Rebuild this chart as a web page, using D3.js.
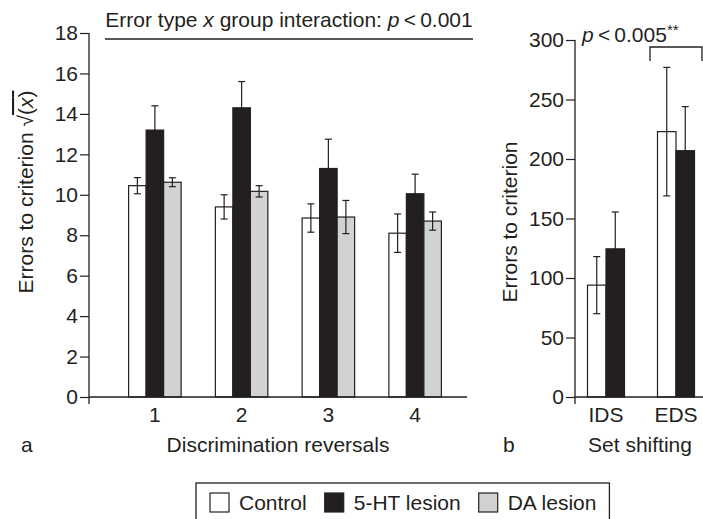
<!DOCTYPE html>
<html>
<head>
<meta charset="utf-8">
<script src="https://cdn.jsdelivr.net/npm/d3@7"></script>
<style>
  body { margin: 0; background: #fff; }
  svg text { font-family: "Liberation Sans", Arial, sans-serif; fill: #231f20; }
</style>
</head>
<body>
<svg id="chart" width="703" height="519"></svg>
<script>
// data
const reversals = ["1", "2", "3", "4"];
const groups = ["Control", "5-HT lesion", "DA lesion"];
const groupFill = ["#ffffff", "#231f20", "#d1d2d4"];

const controlMeans = [10.45, 9.4, 8.85, 8.1];
const controlErr = [0.4, 0.6, 0.7, 0.95];
const htMeans = [13.2, 14.3, 11.3, 10.05];
const htErr = [1.2, 1.3, 1.45, 0.97];
const daMeans = [10.62, 10.17, 8.9, 8.7];
const daErr = [0.22, 0.28, 0.82, 0.45];

const shiftStages = ["IDS", "EDS"];
const shiftControlMeans = [94, 223];
const shiftControlErr = [24, 54];
const shiftHtMeans = [124.5, 207];
const shiftHtErr = [31, 37];

const aTicks = [0, 2, 4, 6, 8, 10, 12, 14, 16, 18];
const bTicks = [0, 50, 100, 150, 200, 250, 300];

const ink = "#231f20";
const svg = d3.select("#chart");

// ---------- panel a ----------
const yA = d3.scaleLinear().domain([0, 18]).range([397, 33]);
const xA = d3.scaleBand().domain(reversals).range([111.5, 458.5]);
const subA = d3.scaleBand().domain(groups).range([-26.25, 26.25]);

const aRows = [];
reversals.forEach((r, i) => {
    aRows.push({ cat: r, g: groups[0], v: controlMeans[i], e: controlErr[i] });
    aRows.push({ cat: r, g: groups[1], v: htMeans[i], e: htErr[i] });
    aRows.push({ cat: r, g: groups[2], v: daMeans[i], e: daErr[i] });
});

const gA = svg.append("g");

gA.append("g")
    .attr("transform", "translate(89,0)")
    .call(d3.axisLeft(yA).tickValues(aTicks).tickSize(9).tickPadding(2).tickSizeOuter(0))
    .call(g => g.select(".domain").remove())
    .call(g => g.selectAll("line").attr("stroke", ink).attr("stroke-width", 1.2))
    .call(g => g.selectAll("text").attr("font-size", 21).attr("fill", ink));

gA.append("g")
    .attr("transform", "translate(0,397)")
    .call(d3.axisBottom(xA).tickSize(0).tickPadding(10))
    .call(g => g.select(".domain").remove())
    .call(g => g.selectAll("text").attr("font-size", 21).attr("fill", ink));

drawBars(gA, aRows, xA, subA, yA);

gA.append("line").attr("x1", 89).attr("x2", 89).attr("y1", 33).attr("y2", 404)
    .attr("stroke", ink).attr("stroke-width", 1.3);
gA.append("line").attr("x1", 89).attr("x2", 467).attr("y1", 397).attr("y2", 397)
    .attr("stroke", ink).attr("stroke-width", 1.3);

// title + rule
const title = gA.append("text").attr("x", 289).attr("y", 27)
    .attr("text-anchor", "middle").attr("font-size", 21);
title.append("tspan").text("Error type ");
title.append("tspan").attr("font-style", "italic").text("x");
title.append("tspan").text(" group interaction: ");
title.append("tspan").attr("font-style", "italic").text("p");
title.append("tspan").text("\u2009<\u20090.001");
gA.append("line").attr("x1", 105).attr("x2", 473).attr("y1", 39).attr("y2", 39)
    .attr("stroke", ink).attr("stroke-width", 1.3);

// y label with sqrt
const yLabA = gA.append("text")
    .attr("transform", "translate(33,192) rotate(-90)")
    .attr("text-anchor", "middle").attr("font-size", 21);
yLabA.append("tspan").text("Errors to criterion \u221A");
yLabA.append("tspan").attr("text-decoration", "overline").text("(x)");
yLabA.select("tspan:last-child").attr("font-style", null);
yLabA.selectAll("tspan").filter((d, i) => i === 1)
    .html("(<tspan font-style='italic'>x</tspan>)");

gA.append("text").attr("x", 278).attr("y", 452).attr("text-anchor", "middle")
    .attr("font-size", 21).text("Discrimination reversals");
gA.append("text").attr("x", 21).attr("y", 452).attr("font-size", 21).text("a");

// ---------- panel b ----------
const yB = d3.scaleLinear().domain([0, 300]).range([397, 40]);
const xB = d3.scaleBand().domain(shiftStages).range([571, 711]);
const subB = d3.scaleBand().domain(groups.slice(0, 2)).range([-18.5, 18.5]);

const bRows = [];
shiftStages.forEach((s, i) => {
    bRows.push({ cat: s, g: groups[0], v: shiftControlMeans[i], e: shiftControlErr[i] });
    bRows.push({ cat: s, g: groups[1], v: shiftHtMeans[i], e: shiftHtErr[i] });
});

const gB = svg.append("g");

gB.append("g")
    .attr("transform", "translate(575,0)")
    .call(d3.axisLeft(yB).tickValues(bTicks).tickSize(9).tickPadding(2).tickSizeOuter(0))
    .call(g => g.select(".domain").remove())
    .call(g => g.selectAll("line").attr("stroke", ink).attr("stroke-width", 1.2))
    .call(g => g.selectAll("text").attr("font-size", 21).attr("fill", ink));

gB.append("g")
    .attr("transform", "translate(0,397)")
    .call(d3.axisBottom(xB).tickSize(0).tickPadding(10))
    .call(g => g.select(".domain").remove())
    .call(g => g.selectAll("text").attr("font-size", 21).attr("fill", ink));

drawBars(gB, bRows, xB, subB, yB);

gB.append("line").attr("x1", 575).attr("x2", 575).attr("y1", 40).attr("y2", 404)
    .attr("stroke", ink).attr("stroke-width", 1.3);
gB.append("line").attr("x1", 575).attr("x2", 703).attr("y1", 397).attr("y2", 397)
    .attr("stroke", ink).attr("stroke-width", 1.3);

const pB = gB.append("text").attr("x", 582).attr("y", 42).attr("font-size", 21);
pB.append("tspan").attr("font-style", "italic").text("p");
pB.append("tspan").text("\u2009<\u20090.005");
pB.append("tspan").attr("font-size", 15).attr("dy", -7).text("**");
gB.append("path").attr("d", "M650,61V47H702V61")
    .attr("fill", "none").attr("stroke", ink).attr("stroke-width", 1.3);

gB.append("text")
    .attr("transform", "translate(517,222) rotate(-90)")
    .attr("text-anchor", "middle").attr("font-size", 21).text("Errors to criterion");
gB.append("text").attr("x", 640).attr("y", 452).attr("text-anchor", "middle")
    .attr("font-size", 21).text("Set shifting");
gB.append("text").attr("x", 503).attr("y", 452).attr("font-size", 21).text("b");

// ---------- legend ----------
const legend = svg.append("g");
const legendBox = legend.append("rect").attr("x", 196).attr("y", 483)
    .attr("height", 60).attr("fill", "#fff").attr("stroke", ink).attr("stroke-width", 1.3);
let lx = 210;
groups.forEach((g, i) => {
    legend.append("rect").attr("x", lx).attr("y", 493).attr("width", 19).attr("height", 19)
        .attr("fill", groupFill[i]).attr("stroke", ink).attr("stroke-width", 1.2);
    const t = legend.append("text").attr("x", lx + 29).attr("y", 510)
        .attr("font-size", 21).text(g);
    lx += 29 + t.node().getComputedTextLength() + 18;
});
legendBox.attr("width", lx - 18 + 13 - 196);

function drawBars(g, rows, x, sub, y) {
    const bw = sub.bandwidth();
    const bars = g.append("g");
    bars.selectAll("rect").data(rows).join("rect")
        .attr("x", d => x(d.cat) + x.bandwidth() / 2 + sub(d.g))
        .attr("y", d => y(d.v))
        .attr("width", bw)
        .attr("height", d => y(0) - y(d.v))
        .attr("fill", d => groupFill[groups.indexOf(d.g)])
        .attr("stroke", ink).attr("stroke-width", 1.2);

    const err = g.append("g").attr("stroke", ink).attr("stroke-width", 1.2);
    rows.forEach(d => {
        const cx = x(d.cat) + x.bandwidth() / 2 + sub(d.g) + bw / 2;
        const hi = y(d.v + d.e), lo = y(d.v - d.e);
        err.append("line").attr("x1", cx).attr("x2", cx).attr("y1", hi).attr("y2", lo);
        err.append("line").attr("x1", cx - 3.5).attr("x2", cx + 3.5).attr("y1", hi).attr("y2", hi);
        err.append("line").attr("x1", cx - 3.5).attr("x2", cx + 3.5).attr("y1", lo).attr("y2", lo);
    });
}
</script>
</body>
</html>
